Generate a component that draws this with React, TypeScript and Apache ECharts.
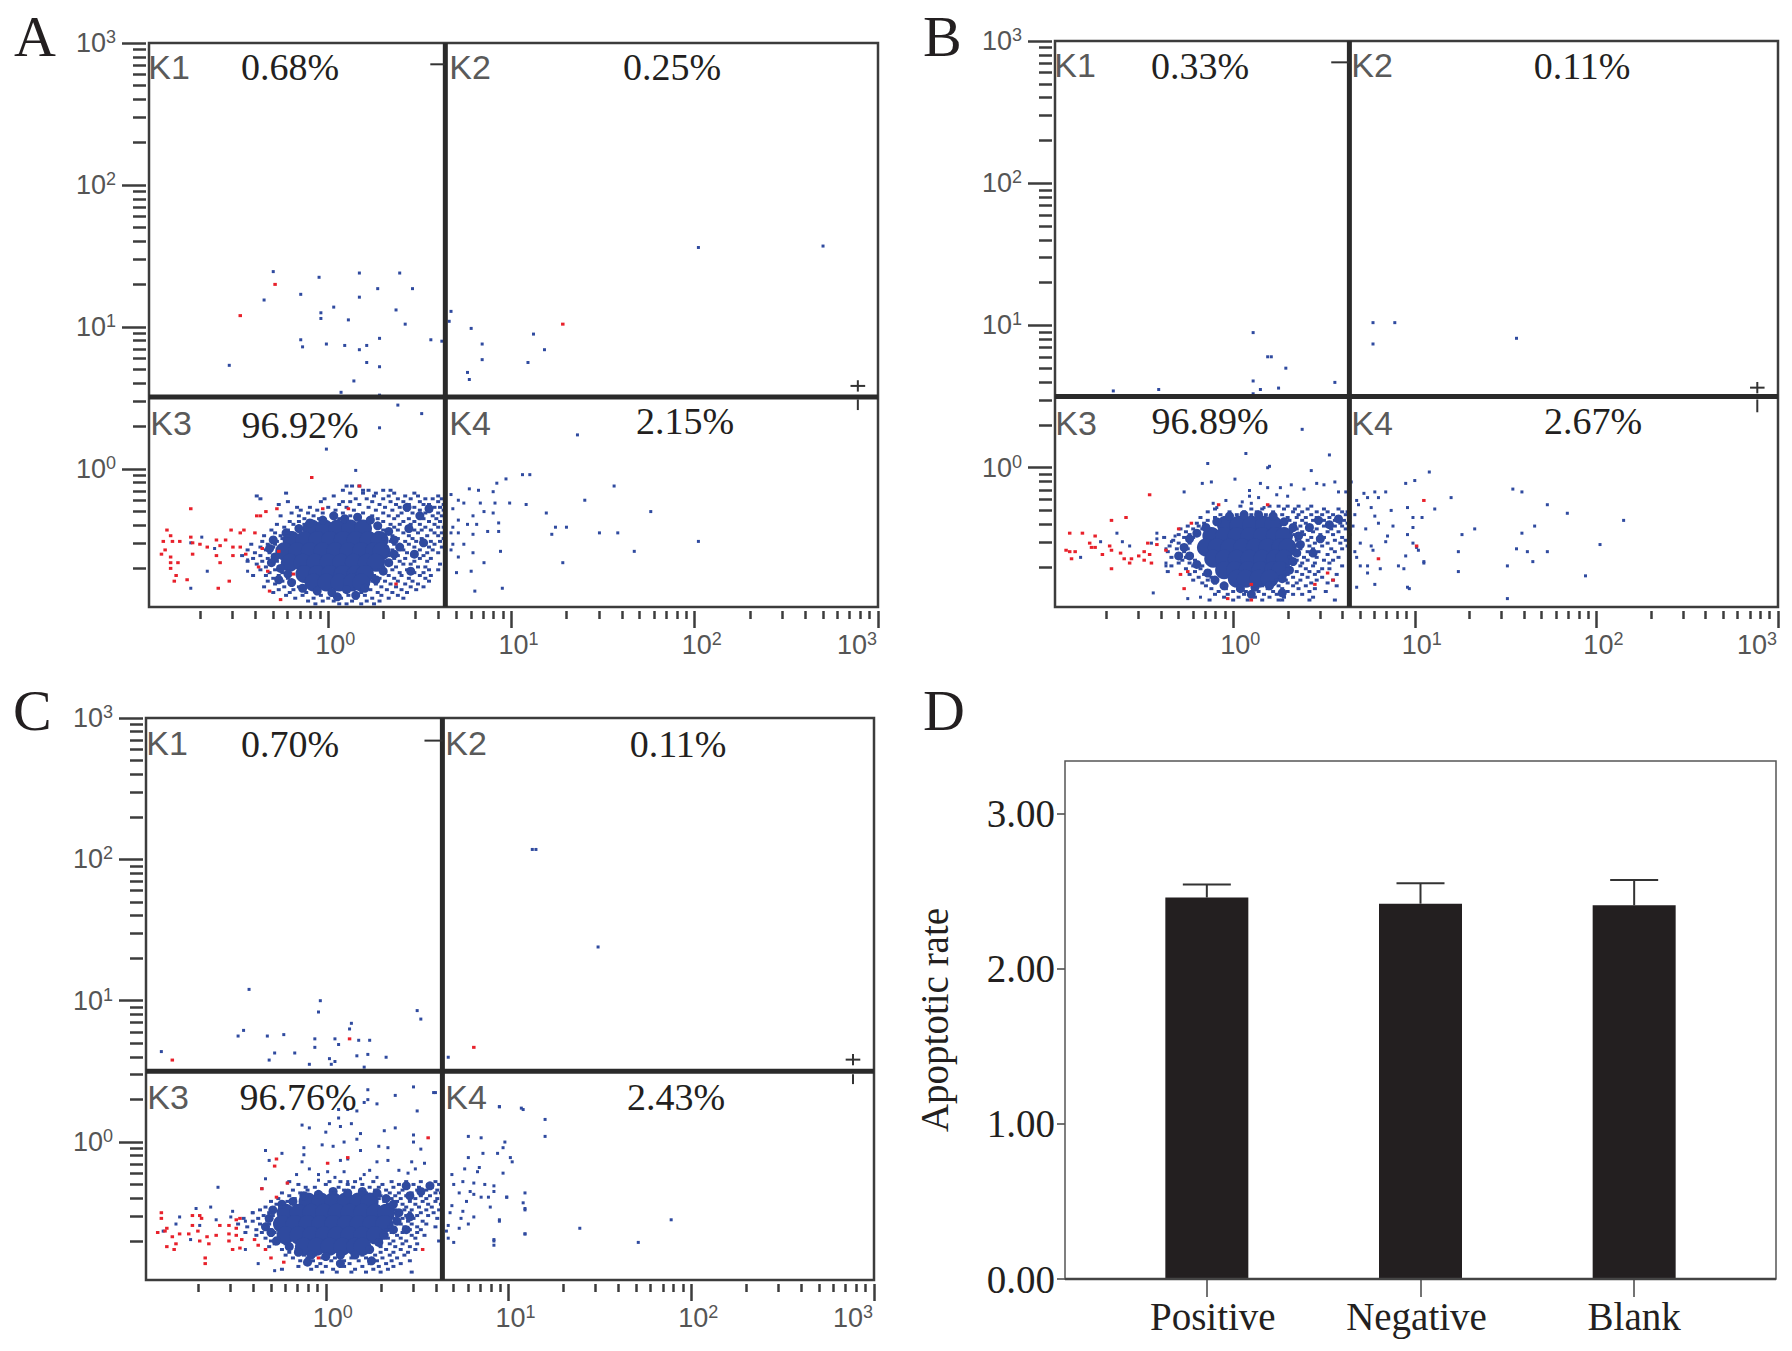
import React, { useEffect, useRef } from "react";
import * as echarts from "echarts";

// All flow-cytometry values are log10 of the intensity: rows are [log10 y, log10 x, log10 x, ...]
const aCore = [
  [-0.42, -0.09, -0.02, 0.05, 0.12, 0.19],
  [-0.5, -0.2, -0.13, -0.06, 0.01, 0.08, 0.15, 0.22, 0.28],
  [-0.58, -0.24, -0.17, -0.1, -0.03, 0.04, 0.11, 0.18, 0.25, 0.29],
  [-0.66, -0.21, -0.14, -0.07, 0.0, 0.07, 0.14, 0.21, 0.26],
  [-0.74, -0.13, -0.06, 0.01, 0.08, 0.15, 0.2],
  [-0.8, -0.08, -0.01, 0.06, 0.13, 0.18],
];
const aEdge = [
  [-0.3, -0.5], [-0.32, -0.56], [-0.29, -0.62], [-0.31, -0.66], [-0.26, -0.7], [-0.22, -0.74], [-0.2, -0.8], [-0.14, -0.84], [-0.06, -0.86],
  [0.02, -0.87], [0.1, -0.85], [0.2, -0.84], [0.26, -0.78], [0.3, -0.72], [0.33, -0.66], [0.36, -0.6], [0.39, -0.55], [0.36, -0.5], [0.33, -0.44],
  [0.27, -0.4], [0.23, -0.36], [0.16, -0.34], [0.09, -0.35], [0.03, -0.33], [-0.03, -0.36], [-0.1, -0.38], [-0.16, -0.42], [-0.23, -0.45],
  [0.44, -0.42], [0.5, -0.33], [0.43, -0.27], [0.55, -0.28], [0.47, -0.6], [0.52, -0.52], [-0.27, -0.78], [0.05, -0.9], [0.15, -0.89], [0.45, -0.72],
];
const aBlueRows = [
  [-0.12, 0.1, 0.13, 0.17],
  [-0.15, 0.08, 0.19, 0.22, 0.3, 0.34],
  [-0.17, -0.23, 0.12, 0.19, 0.26, 0.36, 0.47],
  [-0.19, -0.39, 0.03, 0.25, 0.33, 0.42, 0.49, 0.6],
  [-0.21, -0.37, -0.02, 0.15, 0.21, 0.3, 0.38, 0.45, 0.53, 0.57, 0.62],
  [-0.23, -0.22, -0.04, 0.08, 0.12, 0.24, 0.34, 0.41, 0.5, 0.6],
  [-0.25, -0.27, 0.06, 0.17, 0.28, 0.37, 0.44, 0.52, 0.55, 0.63],
  [-0.27, -0.17, -0.1, 0.0, 0.1, 0.22, 0.31, 0.39, 0.47, 0.58, 0.61],
  [-0.29, -0.15, -0.06, 0.04, 0.14, 0.26, 0.35, 0.43, 0.5, 0.56, 0.63],
  [-0.31, -0.2, -0.11, -0.03, 0.08, 0.19, 0.3, 0.4, 0.46, 0.53, 0.6],
  [-0.33, -0.26, -0.16, -0.08, 0.02, 0.12, 0.24, 0.33, 0.38, 0.49, 0.57, 0.62],
  [-0.35, -0.13, -0.05, 0.06, 0.17, 0.27, 0.36, 0.44, 0.52, 0.59],
  [-0.37, -0.21, -0.16, -0.09, 0.11, 0.22, 0.3, 0.41, 0.47, 0.55, 0.61],
  [-0.39, -0.28, -0.19, -0.13, 0.26, 0.34, 0.39, 0.45, 0.5, 0.58],
  [-0.41, -0.24, -0.17, 0.28, 0.36, 0.43, 0.53, 0.6, 0.63],
  [-0.43, -0.31, -0.22, -0.16, 0.3, 0.38, 0.47, 0.51, 0.56],
  [-0.45, -0.29, -0.2, 0.27, 0.33, 0.41, 0.49, 0.58, 0.62],
  [-0.47, -0.35, -0.26, -0.22, 0.35, 0.44, 0.54, 0.6],
  [-0.49, -0.3, -0.25, 0.3, 0.38, 0.46, 0.51, 0.63],
  [-0.51, -0.36, -0.28, 0.34, 0.42, 0.48, 0.56, 0.61],
  [-0.53, -0.42, -0.33, -0.29, 0.36, 0.44, 0.53, 0.58],
  [-0.55, -0.37, -0.3, 0.32, 0.39, 0.47, 0.55, 0.62],
  [-0.57, -0.44, -0.34, 0.35, 0.41, 0.5, 0.57],
  [-0.59, -0.4, -0.32, 0.34, 0.43, 0.48, 0.54, 0.6],
  [-0.61, -0.47, -0.37, -0.3, 0.33, 0.38, 0.46, 0.52],
  [-0.63, -0.41, -0.33, 0.36, 0.42, 0.5, 0.56],
  [-0.65, -0.44, -0.36, -0.28, 0.31, 0.39, 0.47, 0.54],
  [-0.67, -0.39, -0.31, 0.34, 0.41, 0.45, 0.61],
  [-0.69, -0.34, -0.27, 0.3, 0.37, 0.49, 0.53],
  [-0.71, -0.37, -0.29, 0.28, 0.35, 0.43, 0.55, 0.6],
  [-0.73, -0.32, -0.25, 0.31, 0.39, 0.47, 0.52],
  [-0.75, -0.41, -0.34, -0.27, 0.25, 0.33, 0.4, 0.5, 0.56],
  [-0.77, -0.3, -0.22, 0.28, 0.36, 0.44, 0.53],
  [-0.79, -0.33, -0.25, -0.19, 0.24, 0.31, 0.38, 0.46, 0.55],
  [-0.81, -0.29, -0.2, 0.26, 0.34, 0.42, 0.49],
  [-0.83, -0.35, -0.24, -0.16, 0.21, 0.29, 0.37, 0.45, 0.52],
  [-0.85, -0.27, -0.19, -0.13, 0.23, 0.32, 0.4, 0.48],
  [-0.87, -0.3, -0.21, -0.12, -0.06, 0.18, 0.27, 0.35, 0.43],
  [-0.89, -0.23, -0.14, -0.04, 0.05, 0.11, 0.2, 0.29, 0.38],
  [-0.91, -0.18, -0.08, 0.0, 0.07, 0.15, 0.24, 0.33, 0.41],
  [-0.93, -0.11, -0.03, 0.03, 0.13, 0.21, 0.28],
  [-0.95, -0.07, 0.06, 0.1, 0.18, 0.25],
];
const aBlueSparse = [
  [-0.3, 1.39], [-0.05, 1.35], [0.17, 1.38], [0.39, 1.38], [0.27, 1.27], [0.46, 1.27], [-0.15, 1.23], [-0.35, 1.19],
  [0.17, 1.21], [0.03, 1.14], [-0.04, 1.1], [-0.04, 1.06], [0.11, 1.05], [0.37, 1.12], [0.42, 1.02], [-0.15, 0.91],
  [-0.14, 0.86], [-0.01, 0.88], [0.09, 0.87], [0.17, 0.84], [0.21, 0.87], [0.28, 0.92], [0.56, 0.91], [0.62, 0.9],
  [0.21, 0.75], [0.28, 0.72], [-0.54, 0.73], [0.14, 0.62], [0.07, 0.54], [0.28, 0.52], [0.38, 0.45], [0.51, 0.39],
  [0.28, 0.29], [-0.01, 0.14], [0.15, -0.01], [0.67, 1.11], [0.66, 1.04], [0.78, 0.99], [0.84, 0.88], [0.84, 0.77],
  [0.76, 0.68], [0.77, 0.63], [1.12, 0.95], [1.18, 0.84], [1.09, 0.75], [2.02, 1.56], [2.7, 1.57], [1.36, 0.24],
  [1.06, -0.04], [1.1, -0.04], [0.97, -0.07], [1.56, -0.12], [1.4, -0.22], [1.76, -0.3], [1.08, -0.25], [1.19, -0.31],
  [1.24, -0.41], [1.3, -0.41], [1.22, -0.46], [1.48, -0.45], [1.58, -0.45], [2.02, -0.51], [1.67, -0.58], [1.28, -0.66],
  [0.95, -0.84], [0.8, -0.86], [0.94, -0.58], [0.85, -0.66], [0.7, -0.73], [0.78, -0.72], [0.67, -0.18], [0.71, -0.22],
  [0.77, -0.14], [0.82, -0.15], [0.9, -0.16], [0.92, -0.1], [0.68, -0.28], [0.74, -0.24], [0.83, -0.24], [0.91, -0.24],
  [0.99, -0.24], [0.85, -0.3], [0.9, -0.31], [0.79, -0.33], [0.71, -0.36], [0.68, -0.41], [0.76, -0.39], [0.81, -0.39],
  [0.93, -0.38], [0.87, -0.44], [0.93, -0.44], [0.67, -0.45], [0.71, -0.45], [0.79, -0.46], [0.68, -0.53], [0.74, -0.53],
  [0.67, -0.57], [0.71, -0.62], [0.79, -0.59], [-0.75, -0.52], [-0.69, -0.48], [-0.62, -0.56], [-0.75, -0.84], [-0.66, -0.72],
  [-0.44, -0.64], [-0.44, -0.72],
];
const aRed = [
  [-0.88, -0.43], [-0.86, -0.47], [-0.9, -0.51], [-0.85, -0.51], [-0.81, -0.51], [-0.91, -0.6], [-0.86, -0.62], [-0.89, -0.57],
  [-0.82, -0.66], [-0.86, -0.66], [-0.86, -0.7], [-0.83, -0.75], [-0.84, -0.79], [-0.77, -0.78], [-0.75, -0.28], [-0.75, -0.48],
  [-0.74, -0.52], [-0.7, -0.53], [-0.66, -0.55], [-0.61, -0.5], [-0.56, -0.5], [-0.59, -0.54], [-0.53, -0.43], [-0.48, -0.45],
  [-0.46, -0.43], [-0.52, -0.55], [-0.48, -0.55], [-0.45, -0.6], [-0.52, -0.61], [-0.74, -0.6], [-0.61, -0.61], [-0.59, -0.66],
  [-0.54, -0.79], [-0.6, -0.84], [-0.39, -0.33], [-0.37, -0.33], [-0.34, -0.3], [-0.28, -0.28], [-0.4, -0.45], [-0.36, -0.56],
  [-0.38, -0.69], [-0.33, -0.72], [-0.27, -0.58], [-0.19, -0.74], [-0.09, -0.06], [0.17, -0.12], [-0.03, -0.28], [0.11, -0.28],
  [-0.26, -0.92], [-0.32, -0.86], [0.37, -0.81], [-0.29, 1.3], [-0.48, 1.08], [1.28, 1.02],
];

const bCore = [
  [-0.4, -0.04, 0.03, 0.1, 0.17, 0.22],
  [-0.48, -0.12, -0.05, 0.02, 0.09, 0.16, 0.23, 0.28],
  [-0.56, -0.15, -0.09, -0.02, 0.05, 0.12, 0.19, 0.26, 0.3],
  [-0.64, -0.11, -0.05, 0.02, 0.09, 0.16, 0.23, 0.28],
  [-0.72, -0.05, 0.01, 0.08, 0.15, 0.22, 0.26],
  [-0.78, 0.02, 0.07, 0.14, 0.2],
];
const bEdge = [
  [-0.24, -0.5], [-0.27, -0.56], [-0.24, -0.62], [-0.2, -0.68], [-0.14, -0.74], [-0.1, -0.79], [-0.05, -0.83], [0.04, -0.85], [0.12, -0.84],
  [0.2, -0.83], [0.27, -0.78], [0.31, -0.72], [0.33, -0.66], [0.35, -0.6], [0.37, -0.54], [0.36, -0.48], [0.33, -0.42], [0.28, -0.38], [0.22, -0.34],
  [0.14, -0.33], [0.06, -0.33], [-0.02, -0.34], [-0.09, -0.38], [-0.15, -0.42], [-0.2, -0.46], [0.42, -0.42], [0.47, -0.37], [0.53, -0.4], [0.58, -0.36],
  [0.44, -0.6], [0.48, -0.5], [0.1, -0.89], [0.27, -0.88], [-0.3, -0.62],
];
const bBlueRows = [
  [-0.27, 0.04, 0.2, 0.25, 0.3, 0.36, 0.43],
  [-0.29, -0.1, 0.1, 0.16, 0.28, 0.34, 0.41, 0.5, 0.58],
  [-0.31, -0.14, -0.02, 0.06, 0.13, 0.22, 0.33, 0.38, 0.46, 0.52, 0.6, 0.63],
  [-0.33, -0.07, 0.02, 0.1, 0.18, 0.27, 0.36, 0.43, 0.49, 0.55, 0.62],
  [-0.35, -0.18, -0.1, 0.3, 0.35, 0.4, 0.46, 0.53, 0.58, 0.64],
  [-0.37, -0.14, 0.31, 0.38, 0.44, 0.5, 0.56, 0.61],
  [-0.39, -0.2, -0.16, 0.28, 0.34, 0.4, 0.47, 0.52, 0.59, 0.63],
  [-0.41, -0.25, -0.19, 0.33, 0.37, 0.43, 0.5, 0.56, 0.6],
  [-0.43, -0.29, -0.22, -0.17, 0.35, 0.41, 0.46, 0.54, 0.62],
  [-0.45, -0.26, -0.2, 0.32, 0.38, 0.44, 0.52, 0.58],
  [-0.47, -0.3, -0.24, 0.34, 0.39, 0.48, 0.55, 0.64],
  [-0.49, -0.38, -0.27, -0.22, 0.36, 0.43, 0.5, 0.6],
  [-0.51, -0.33, -0.25, 0.35, 0.41, 0.47, 0.56, 0.62],
  [-0.53, -0.3, -0.24, 0.38, 0.45, 0.52, 0.59],
  [-0.55, -0.35, -0.28, 0.34, 0.42, 0.49, 0.63],
  [-0.57, -0.31, -0.25, 0.37, 0.44, 0.54, 0.6],
  [-0.59, -0.36, -0.27, 0.33, 0.41, 0.47, 0.56],
  [-0.61, -0.29, -0.23, 0.36, 0.43, 0.52],
  [-0.63, -0.34, -0.26, 0.31, 0.39, 0.46, 0.58],
  [-0.65, -0.28, -0.21, 0.35, 0.41, 0.5, 0.55],
  [-0.67, -0.3, -0.24, 0.33, 0.38, 0.45, 0.53],
  [-0.69, -0.34, -0.22, -0.17, 0.3, 0.37, 0.44, 0.6],
  [-0.71, -0.26, -0.18, 0.32, 0.4, 0.49, 0.53],
  [-0.73, -0.36, -0.21, -0.14, 0.28, 0.35, 0.42, 0.47],
  [-0.75, -0.24, -0.16, 0.3, 0.38, 0.45, 0.57],
  [-0.77, -0.19, -0.12, 0.26, 0.33, 0.41, 0.49],
  [-0.79, -0.22, -0.14, 0.24, 0.29, 0.37, 0.46, 0.55],
  [-0.81, -0.17, -0.1, 0.22, 0.3, 0.35, 0.43, 0.52],
  [-0.83, -0.15, -0.06, 0.16, 0.25, 0.33, 0.4, 0.57],
  [-0.85, -0.12, -0.04, 0.04, 0.11, 0.19, 0.27, 0.36, 0.45],
  [-0.87, -0.08, 0.0, 0.07, 0.14, 0.22, 0.3, 0.42, 0.51],
  [-0.89, -0.1, -0.03, 0.06, 0.17, 0.24, 0.33, 0.38],
  [-0.91, -0.05, 0.03, 0.12, 0.2, 0.28, 0.44],
  [-0.93, -0.13, 0.0, 0.08, 0.16, 0.25, 0.27, 0.42, 0.56],
];
const bBlueSparse = [
  [0.38, 0.27], [0.07, 0.1], [0.53, 0.09], [0.19, 0.0], [0.2, 0.01], [-0.14, 0.03], [0.43, -0.02], [0.01, -0.08], [-0.12, -0.1],
  [-0.17, -0.11], [0.15, -0.11], [0.19, -0.14], [0.26, -0.14], [0.32, -0.12], [0.46, -0.11], [0.56, -0.1], [0.65, -0.1],
  [0.39, -0.15], [0.5, -0.12], [-0.27, -0.17], [0.09, -0.16], [0.09, -0.2], [0.14, -0.21], [0.24, -0.19], [0.3, -0.2],
  [0.58, -0.17], [0.62, -0.17], [0.05, -0.24], [-0.04, -0.23], [-0.11, -0.25], [-0.09, -0.28], [0.1, -0.25], [0.17, -0.28],
  [-0.64, -0.46], [-0.73, -0.52], [-0.84, -0.63], [-0.42, -0.46], [-0.42, -0.5], [-0.45, -0.53], [-0.37, -0.57], [-0.37, -0.67],
  [-0.37, -0.69], [-0.61, -0.52], [-0.57, -0.55], [-0.44, -0.88], [-0.25, -0.92], [-0.18, -0.91], [-0.32, -0.48], [-0.34, -0.52],
  [0.72, -0.18], [0.78, -0.17], [0.84, -0.17], [0.68, -0.23], [0.74, -0.21], [0.8, -0.21], [0.69, -0.26], [0.76, -0.28],
  [0.87, -0.3], [0.96, -0.28], [0.67, -0.33], [0.78, -0.34], [0.99, -0.35], [1.04, -0.35], [0.73, -0.43], [0.8, -0.39],
  [0.88, -0.41], [0.99, -0.42], [0.66, -0.41], [0.85, -0.48], [0.96, -0.47], [0.7, -0.53], [0.76, -0.55], [0.84, -0.52],
  [0.99, -0.53], [0.67, -0.59], [0.77, -0.58], [1.02, -0.58], [0.68, -0.63], [0.95, -0.62], [1.05, -0.67], [0.7, -0.69],
  [0.74, -0.69], [0.81, -0.71], [0.91, -0.69], [0.94, -0.71], [0.74, -0.74], [0.68, -0.84], [0.78, -0.82], [0.97, -0.85],
  [1.08, -0.03], [1.0, -0.09], [0.95, -0.11], [1.11, -0.29], [1.84, -0.32], [1.73, -0.26], [1.59, -0.17], [1.54, -0.15],
  [2.15, -0.37], [2.02, -0.54], [1.73, -0.59], [1.62, -0.59], [1.56, -0.57], [1.66, -0.41], [1.59, -0.46], [1.33, -0.43],
  [1.26, -0.47], [1.24, -0.59], [1.24, -0.73], [1.51, -0.69], [1.51, -0.92], [1.2, -0.21], [1.05, -0.66], [1.01, -0.56],
  [0.96, -0.84], [1.94, -0.76], [1.65, -0.66],
  [0.11, 0.95], [0.19, 0.78], [0.21, 0.78], [0.29, 0.7], [0.11, 0.61], [0.25, 0.56], [0.15, 0.55], [0.11, 0.52], [0.56, 0.6],
  [-0.41, 0.55], [-0.66, 0.54], [0.77, 1.02], [0.89, 1.02], [0.77, 0.87], [1.56, 0.91],
];
const bRed = [
  [-0.46, -0.19], [-0.59, -0.35], [-0.67, -0.37], [-0.9, -0.46], [-0.83, -0.46], [-0.76, -0.48], [-0.79, -0.53], [-0.92, -0.58],
  [-0.9, -0.59], [-0.87, -0.59], [-0.89, -0.64], [-0.78, -0.56], [-0.76, -0.56], [-0.72, -0.61], [-0.68, -0.55], [-0.67, -0.58],
  [-0.62, -0.6], [-0.6, -0.64], [-0.56, -0.64], [-0.57, -0.67], [-0.67, -0.71], [-0.52, -0.62], [-0.49, -0.59], [-0.46, -0.61],
  [-0.49, -0.65], [-0.45, -0.67], [-0.47, -0.53], [-0.42, -0.54], [-0.37, -0.58], [-0.23, -0.39], [-0.3, -0.43], [-0.08, -0.26],
  [0.19, -0.26], [0.1, -0.82], [0.45, -0.82], [0.55, -0.79], [0.52, -0.74], [-0.29, -0.75], [-0.27, -0.85], [-0.25, -0.73],
  [-0.03, -0.92], [0.1, -0.93], [1.05, -0.23], [1.01, -0.55], [0.8, -0.64],
];

const cCore = [
  [-0.42, -0.1, -0.03, 0.04, 0.11, 0.18, 0.24],
  [-0.5, -0.22, -0.15, -0.08, -0.01, 0.06, 0.13, 0.2, 0.27, 0.33],
  [-0.58, -0.24, -0.17, -0.1, -0.03, 0.04, 0.11, 0.18, 0.25, 0.32],
  [-0.66, -0.22, -0.15, -0.08, -0.01, 0.06, 0.13, 0.2, 0.27],
  [-0.74, -0.12, -0.05, 0.02, 0.09, 0.16, 0.2],
];
const cEdge = [
  [-0.29, -0.48], [-0.31, -0.54], [-0.33, -0.6], [-0.3, -0.64], [-0.27, -0.7], [-0.2, -0.74], [-0.15, -0.78], [-0.08, -0.8], [0.0, -0.81], [0.08, -0.8],
  [0.16, -0.8], [0.24, -0.76], [0.29, -0.71], [0.32, -0.66], [0.37, -0.62], [0.39, -0.56], [0.4, -0.5], [0.37, -0.44], [0.33, -0.4], [0.28, -0.36],
  [0.2, -0.35], [0.12, -0.36], [0.04, -0.35], [-0.04, -0.37], [-0.12, -0.38], [-0.18, -0.42], [-0.24, -0.44], [0.46, -0.38], [0.52, -0.35], [0.44, -0.31],
  [0.57, -0.31], [0.46, -0.53], [-0.1, -0.85], [0.08, -0.86], [0.25, -0.84], [0.44, -0.62],
];
const cBlueRows = [
  [-0.28, -0.2, 0.02, 0.08, 0.16, 0.26, 0.36, 0.44, 0.52, 0.6],
  [-0.3, -0.15, 0.0, 0.12, 0.2, 0.31, 0.4, 0.48, 0.56, 0.62],
  [-0.32, -0.11, -0.06, 0.07, 0.15, 0.24, 0.29, 0.37, 0.45, 0.51, 0.58],
  [-0.34, -0.18, -0.1, 0.03, 0.1, 0.19, 0.27, 0.33, 0.42, 0.5, 0.55, 0.61],
  [-0.36, -0.24, -0.14, -0.05, 0.05, 0.22, 0.35, 0.4, 0.47, 0.53, 0.6, 0.63],
  [-0.38, -0.2, -0.12, 0.3, 0.38, 0.44, 0.52, 0.57],
  [-0.4, -0.26, -0.17, 0.29, 0.36, 0.41, 0.49, 0.55, 0.61],
  [-0.42, -0.3, -0.21, 0.32, 0.39, 0.46, 0.53, 0.6],
  [-0.44, -0.27, -0.23, 0.34, 0.42, 0.49, 0.56, 0.63],
  [-0.46, -0.33, -0.25, 0.37, 0.44, 0.51, 0.58],
  [-0.48, -0.36, -0.29, 0.38, 0.43, 0.47, 0.55, 0.62],
  [-0.5, -0.4, -0.31, 0.4, 0.46, 0.52, 0.59],
  [-0.52, -0.34, -0.29, 0.39, 0.44, 0.5, 0.56],
  [-0.54, -0.45, -0.37, -0.3, 0.37, 0.42, 0.48, 0.61],
  [-0.56, -0.4, -0.32, 0.38, 0.45, 0.53],
  [-0.58, -0.48, -0.36, -0.31, 0.36, 0.41, 0.47, 0.55],
  [-0.6, -0.43, -0.33, 0.35, 0.43, 0.5, 0.6],
  [-0.62, -0.38, -0.3, 0.33, 0.38, 0.46, 0.52],
  [-0.64, -0.44, -0.35, -0.28, 0.36, 0.42, 0.5],
  [-0.66, -0.38, -0.3, 0.32, 0.39, 0.47, 0.54],
  [-0.68, -0.33, -0.27, 0.34, 0.41, 0.49],
  [-0.7, -0.3, -0.26, 0.3, 0.37, 0.44, 0.62],
  [-0.72, -0.28, -0.22, 0.28, 0.35, 0.42, 0.5],
  [-0.74, -0.31, -0.2, 0.3, 0.38, 0.46],
  [-0.76, -0.24, -0.16, 0.25, 0.33, 0.41, 0.49],
  [-0.78, -0.2, -0.14, 0.24, 0.3, 0.37, 0.45],
  [-0.8, -0.22, -0.12, -0.06, 0.2, 0.27, 0.35, 0.43],
  [-0.82, -0.18, -0.1, -0.02, 0.05, 0.14, 0.22, 0.31, 0.39],
  [-0.84, -0.14, -0.07, 0.03, 0.1, 0.18, 0.28, 0.36, 0.46],
  [-0.86, -0.11, -0.03, 0.07, 0.13, 0.24, 0.33, 0.41],
  [-0.88, -0.15, -0.05, 0.0, 0.1, 0.2, 0.29, 0.37],
  [-0.9, -0.24, -0.08, 0.04, 0.16, 0.26, 0.34],
  [-0.92, -0.02, 0.06, 0.14, 0.22, 0.3, 0.47],
];
const cBlueSparse = [
  [0.07, 0.17], [-0.13, 0.12], [-0.09, 0.1], [0.02, 0.13], [0.08, 0.11], [0.14, 0.13], [0.0, 0.07], [0.19, 0.06], [0.32, 0.08],
  [0.38, 0.1], [0.48, 0.05], [0.48, 0.0], [-0.02, -0.02], [0.1, 0.0], [0.04, -0.03], [-0.12, -0.04], [0.17, 0.02], [0.29, -0.03],
  [0.19, -0.06], [0.34, -0.04], [0.52, -0.05], [-0.33, -0.06], [-0.24, -0.08], [-0.12, -0.09], [-0.31, -0.13], [-0.13, -0.14],
  [0.08, -0.13], [0.12, -0.12], [0.28, -0.14], [0.34, -0.13], [0.47, -0.14], [0.54, -0.15], [-0.16, -0.23], [-0.09, -0.19],
  [-0.04, -0.23], [0.01, -0.21], [0.05, -0.25], [0.1, -0.21], [0.24, -0.2], [0.21, -0.23], [0.4, -0.2], [0.45, -0.22], [0.49, -0.19],
  [-0.33, -0.26], [-0.21, -0.29], [-0.04, -0.27], [0.12, -0.28], [0.19, -0.26], [0.28, -0.25], [-0.59, -0.32], [-0.35, -0.33],
  [-0.71, -0.47], [-0.63, -0.46], [-0.51, -0.49], [-0.8, -0.53], [-0.82, -0.58], [-0.89, -0.63], [-0.69, -0.59], [-0.6, -0.55],
  [-0.52, -0.53], [-0.44, -0.56], [-0.4, -0.5], [-0.74, -0.69], [-0.44, -0.76], [-0.37, -0.86], [-0.28, -0.91],
  [0.78, 0.04], [0.85, 0.03], [0.98, 0.0], [0.95, 0.25], [1.08, 0.23], [0.86, -0.08], [0.97, -0.04], [1.01, -0.11], [1.02, -0.14],
  [0.78, -0.11], [0.94, -0.08], [0.84, -0.18], [0.83, -0.21], [0.97, -0.22], [0.76, -0.19], [0.69, -0.23], [0.75, -0.28], [0.7, -0.3],
  [0.81, -0.29], [0.87, -0.3], [0.92, -0.31], [0.79, -0.35], [0.73, -0.36], [0.81, -0.37], [0.85, -0.39], [0.89, -0.39], [0.99, -0.39],
  [0.92, -0.35], [1.09, -0.36], [0.77, -0.42], [0.9, -0.46], [1.09, -0.47], [0.69, -0.45], [0.75, -0.49], [0.81, -0.53], [0.74, -0.54],
  [0.68, -0.5], [0.67, -0.59], [0.73, -0.61], [0.78, -0.58], [0.95, -0.55], [1.09, -0.65], [0.66, -0.63], [0.67, -0.68], [0.7, -0.71],
  [0.92, -0.69], [0.92, -0.73], [1.39, -0.61], [1.71, -0.71], [1.89, -0.55], [1.2, 0.16], [1.2, 0.04], [1.07, 0.24], [0.95, 0.25],
  [1.08, -0.43], [1.09, -0.48], [1.09, -0.65], [0.99, -0.39], [0.92, -0.7], [0.95, -0.56],
  [1.13, 2.07], [1.15, 2.07], [1.49, 1.38], [-0.42, 1.08], [-0.03, 1.0], [-0.04, 0.92], [0.5, 0.93], [0.52, 0.87], [-0.45, 0.79], [-0.48, 0.75],
  [-0.32, 0.75], [-0.23, 0.76], [0.14, 0.84], [0.13, 0.8], [-0.06, 0.73], [0.05, 0.73], [0.18, 0.72], [0.24, 0.72], [-0.06, 0.67], [0.07, 0.69],
  [-0.28, 0.63], [-0.17, 0.63], [0.17, 0.61], [0.23, 0.62], [0.33, 0.6], [-0.31, 0.58], [-0.09, 0.55], [0.02, 0.59], [0.05, 0.57], [0.03, 0.55],
  [0.21, 0.53], [-0.9, 0.64], [0.67, 0.6], [0.23, 0.37], [0.38, 0.33], [0.48, 0.39], [0.59, 0.35], [0.6, 0.35], [0.5, 0.22], [0.23, 0.3], [0.21, 0.28],
  [0.28, 0.27], [0.17, 0.22], [0.07, 0.23], [0.12, 0.23],
];
const cRed = [
  [-0.9, -0.5], [-0.9, -0.54], [-0.87, -0.61], [-0.92, -0.64], [-0.88, -0.63], [-0.84, -0.67], [-0.82, -0.72], [-0.87, -0.74], [-0.83, -0.76],
  [-0.8, -0.65], [-0.75, -0.65], [-0.73, -0.52], [-0.69, -0.52], [-0.73, -0.59], [-0.68, -0.54], [-0.7, -0.63], [-0.65, -0.67], [-0.64, -0.72],
  [-0.69, -0.7], [-0.66, -0.82], [-0.66, -0.86], [-0.58, -0.59], [-0.53, -0.59], [-0.6, -0.66], [-0.53, -0.65], [-0.53, -0.7], [-0.49, -0.55],
  [-0.47, -0.54], [-0.49, -0.61], [-0.49, -0.66], [-0.46, -0.69], [-0.47, -0.75], [-0.51, -0.76], [-0.39, -0.69], [-0.37, -0.73], [-0.33, -0.76],
  [-0.27, -0.39], [-0.35, -0.33], [-0.21, -0.29], [-0.27, -0.12], [-0.28, -0.17], [0.01, -0.15], [0.12, -0.11], [0.56, 0.03], [-0.23, -0.85],
  [-0.3, -0.82], [-0.04, -0.82], [0.53, -0.76], [-0.84, 0.58], [0.81, 0.67], [0.13, 0.73],
];

// Gate lines and cursor strokes, in the same log10 units: [x1, y1, x2, y2]
const aGates = [[-0.978, 0.507, 3, 0.507], [0.639, -0.972, 0.639, 3]];
const bGates = [[-0.981, 0.5, 3, 0.5], [0.64, -0.979, 0.64, 3]];
const cGates = [[-0.984, 0.5, 3, 0.5], [0.638, -0.976, 0.638, 3]];
const aCursor = [[2.85, 0.585, 2.93, 0.585], [2.89, 0.545, 2.89, 0.625], [2.89, 0.49, 2.89, 0.415], [0.557, 2.85, 0.639, 2.85]];
const bCursor = [[2.846, 0.563, 2.926, 0.563], [2.886, 0.523, 2.886, 0.603], [2.886, 0.48, 2.886, 0.39], [0.54, 2.85, 0.64, 2.85]];
const cCursor = [[2.845, 0.583, 2.925, 0.583], [2.885, 0.543, 2.885, 0.623], [2.885, 0.48, 2.885, 0.41], [0.54, 2.84, 0.64, 2.84]];

const majorDecades = [0, 1, 2, 3];
const minorMultiples = [2, 3, 4, 5, 6, 7, 8, 9];
const lowerDecades = [-1, 0, 1, 2];

const aPercents = ["0.68%", "0.25%", "96.92%", "2.15%"];
const bPercents = ["0.33%", "0.11%", "96.89%", "2.67%"];
const cPercents = ["0.70%", "0.11%", "96.76%", "2.43%"];
const quadrantNames = ["K1", "K2", "K3", "K4"];

const categories = ["Positive", "Negative", "Blank"];
const apoptoticMeans = [2.46, 2.42, 2.41];
const apoptoticUpper = [2.544, 2.552, 2.572];
const rateTicks = [0, 1, 2, 3];

const BLUE = "#2f4a9f";
const RED = "#e8212b";
const INK = "#231f20";
const GREY = "#555555";
const SERIF = '"Liberation Serif", serif';
const SANS = '"Liberation Sans", sans-serif';

const flatten = (rows: number[][]) => rows.flatMap(([y, ...xs]) => xs.map((x) => [x, y]));

const panels = [
  {
    letter: "A", letterXY: [14, 36],
    grid: { left: 149, top: 43, width: 729, height: 564 }, xMin: -0.978, yMin: -0.972,
    core: aCore, edge: aEdge, rows: aBlueRows, sparse: aBlueSparse, red: aRed, gates: aGates, cursor: aCursor, percents: aPercents,
    percentXY: [[290, 67], [672, 67], [300, 425], [685, 421]],
    nameXY: [[169, 67], [470, 67], [171, 423], [470, 423]],
  },
  {
    letter: "B", letterXY: [923, 36],
    grid: { left: 1055, top: 41, width: 723, height: 566 }, xMin: -0.981, yMin: -0.979,
    core: bCore, edge: bEdge, rows: bBlueRows, sparse: bBlueSparse, red: bRed, gates: bGates, cursor: bCursor, percents: bPercents,
    percentXY: [[1200, 66], [1582, 66], [1210, 421], [1593, 421]],
    nameXY: [[1075, 65], [1372, 65], [1076, 423], [1372, 423]],
  },
  {
    letter: "C", letterXY: [13, 710],
    grid: { left: 146, top: 718, width: 728, height: 562 }, xMin: -0.984, yMin: -0.976,
    core: cCore, edge: cEdge, rows: cBlueRows, sparse: cBlueSparse, red: cRed, gates: cGates, cursor: cCursor, percents: cPercents,
    percentXY: [[290, 744], [678, 744], [298, 1097], [676, 1097]],
    nameXY: [[167, 743], [466, 743], [168, 1097], [466, 1097]],
  },
];

function buildOption() {
  const minorTicks = lowerDecades.flatMap((d) => minorMultiples.map((m) => d + Math.log10(m)));
  const rich = {
    a: { fontFamily: SANS, fontSize: 27, color: GREY, lineHeight: 30 },
    b: { fontFamily: SANS, fontSize: 18, color: GREY, lineHeight: 30, verticalAlign: "top", padding: [0, 0, 6, 0] },
    sp: { width: 14, fontSize: 4 },
    spEnd: { width: 42, fontSize: 4 },
  };
  const grids: any[] = [];
  const xAxes: any[] = [];
  const yAxes: any[] = [];
  const series: any[] = [];
  const graphics: any[] = [];

  panels.forEach((p, i) => {
    grids.push({ ...p.grid, outerBoundsMode: "none", show: true, borderColor: "#3c3c3c", borderWidth: 2.5, backgroundColor: "transparent" });
    const tickStyle = { color: "#3c3c3c", width: 2.5 };
    const hiddenLine = { show: false, onZero: false };
    const baseX = { type: "value", gridIndex: i, min: p.xMin, max: 3, position: "bottom", offset: 4, splitLine: { show: false }, axisLine: hiddenLine };
    const baseY = { type: "value", gridIndex: i, min: p.yMin, max: 3, position: "left", offset: 3, splitLine: { show: false }, axisLine: hiddenLine };
    xAxes.push({
      ...baseX,
      axisTick: { show: true, length: 17, lineStyle: tickStyle, customValues: majorDecades },
      axisLabel: {
        show: true, margin: 19, customValues: majorDecades, rich,
        formatter: (v: number) => (v === 3 ? `{a|10}{b|${v}}{spEnd| }` : `{sp| }{a|10}{b|${v}}`),
      },
    });
    xAxes.push({
      ...baseX,
      axisTick: { show: true, length: 8, lineStyle: tickStyle, customValues: minorTicks },
      axisLabel: { show: false },
    });
    yAxes.push({
      ...baseY,
      axisTick: { show: true, length: 24, lineStyle: tickStyle, customValues: majorDecades },
      axisLabel: {
        show: true, margin: 30, customValues: majorDecades, rich,
        formatter: (v: number) => `{a|10}{b|${v}}`,
      },
    });
    yAxes.push({
      ...baseY,
      axisTick: { show: true, length: 13, lineStyle: tickStyle, customValues: minorTicks },
      axisLabel: { show: false },
    });
    const xi = i * 2;
    const scatter = (name: string, data: number[][], color: string, symbol: string, size: any) => ({
      type: "scatter", name, xAxisIndex: xi, yAxisIndex: xi, data, symbol, symbolSize: size,
      itemStyle: { color, opacity: 1 }, silent: true,
    });
    series.push(scatter(`${p.letter} core`, flatten(p.core), BLUE, "circle", 18));
    series.push(scatter(`${p.letter} edge`, p.edge, BLUE, "circle", 9));
    series.push(scatter(`${p.letter} blue`, flatten(p.rows), BLUE, "rect", [4, 3]));
    series.push(scatter(`${p.letter} sparse`, p.sparse, BLUE, "rect", [3, 3]));
    series.push(scatter(`${p.letter} red`, p.red, RED, "rect", [3.5, 3]));
    const stroke = (seg: number[], width: number, color: string) => ({
      type: "line", xAxisIndex: xi, yAxisIndex: xi, symbol: "none", silent: true, z: 5,
      data: [[seg[0], seg[1]], [seg[2], seg[3]]], lineStyle: { color, width },
    });
    p.gates.forEach((s) => series.push(stroke(s, 5, "#2a2a2a")));
    p.cursor.forEach((s) => series.push(stroke(s, 2, "#333333")));

    graphics.push({
      type: "text", x: p.letterXY[0], y: p.letterXY[1], z: 100,
      style: { text: p.letter, font: `58px ${SERIF}`, fill: INK, verticalAlign: "middle" },
    });
    p.percents.forEach((t, k) =>
      graphics.push({
        type: "text", x: p.percentXY[k][0], y: p.percentXY[k][1], z: 100,
        style: { text: t, font: `38px ${SERIF}`, fill: INK, align: "center", verticalAlign: "middle" },
      }),
    );
    quadrantNames.forEach((t, k) =>
      graphics.push({
        type: "text", x: p.nameXY[k][0], y: p.nameXY[k][1], z: 100,
        style: { text: t, font: `34px ${SANS}`, fill: "#5a5a5a", align: "center", verticalAlign: "middle" },
      }),
    );
  });

  // Panel D
  const dGrid = panels.length;
  grids.push({ left: 1100, top: 761, width: 641, height: 518, show: false, outerBoundsMode: "none" });
  xAxes.push({
    type: "category", gridIndex: dGrid, data: categories, position: "bottom",
    axisLine: { show: false, onZero: false },
    axisTick: { show: true, alignWithLabel: true, length: 18, lineStyle: { color: "#444", width: 1.5 } },
    axisLabel: {
      margin: 18, color: INK,
      rich: {
        t: { fontFamily: SERIF, fontSize: 39, color: INK },
        left: { width: 12, fontSize: 4 },
        right: { width: 8, fontSize: 4 },
      },
      formatter: (v: string) => (v === "Positive" ? `{left| }{t|${v}}` : v === "Negative" ? `{t|${v}}{right| }` : `{t|${v}}`),
    },
  });
  yAxes.push({
    type: "value", gridIndex: dGrid, min: 0, max: 3.34, position: "left", offset: 35,
    splitLine: { show: false }, axisLine: { show: false, onZero: false },
    axisTick: { show: true, length: 8, lineStyle: { color: "#444", width: 1.5 }, customValues: rateTicks },
    axisLabel: { margin: 10, fontFamily: SERIF, fontSize: 39, color: INK, customValues: rateTicks, formatter: (v: number) => v.toFixed(2) },
    name: "Apoptotic rate", nameLocation: "middle", nameRotate: 90, nameGap: 111,
    nameTextStyle: { fontFamily: SERIF, fontSize: 39, color: INK },
  });
  const dx = xAxes.length - 1;
  const dy = yAxes.length - 1;
  series.push({
    type: "bar", name: "Apoptotic rate", xAxisIndex: dx, yAxisIndex: dy, data: apoptoticMeans, barWidth: 83,
    itemStyle: { color: INK }, silent: true,
  });
  series.push({
    type: "custom", name: "Error", xAxisIndex: dx, yAxisIndex: dy, silent: true,
    data: categories.map((_, k) => [k, apoptoticMeans[k], apoptoticUpper[k]]),
    encode: { x: 0, y: [1, 2] },
    renderItem: (_: any, api: any) => {
      const low = api.coord([api.value(0), api.value(1)]);
      const high = api.coord([api.value(0), api.value(2)]);
      const style = { stroke: "#333", lineWidth: 2, fill: "none" };
      return {
        type: "group",
        children: [
          { type: "line", shape: { x1: low[0], y1: low[1], x2: high[0], y2: high[1] }, style },
          { type: "line", shape: { x1: high[0] - 24, y1: high[1], x2: high[0] + 24, y2: high[1] }, style },
        ],
      };
    },
  });
  graphics.push({
    type: "rect", z: 50, shape: { x: 1065, y: 761, width: 711, height: 518 },
    style: { fill: "none", stroke: "#555", lineWidth: 1.5 },
  });
  graphics.push({
    type: "line", z: 50, shape: { x1: 1065, y1: 1279, x2: 1776, y2: 1279 },
    style: { stroke: "#444", lineWidth: 2.5 },
  });
  graphics.push({
    type: "text", x: 923, y: 710, z: 100,
    style: { text: "D", font: `58px ${SERIF}`, fill: INK, verticalAlign: "middle" },
  });

  return {
    animation: false,
    backgroundColor: "#ffffff",
    grid: grids,
    xAxis: xAxes,
    yAxis: yAxes,
    series,
    graphic: graphics,
  };
}

export default function App() {
  const ref = useRef<HTMLDivElement>(null);
  useEffect(() => {
    document.body.style.margin = "0";
    const chart = echarts.init(ref.current!, undefined, { renderer: "svg" });
    chart.setOption(buildOption() as any);
    return () => chart.dispose();
  }, []);
  return <div ref={ref} style={{ width: 1792, height: 1351 }} />;
}
